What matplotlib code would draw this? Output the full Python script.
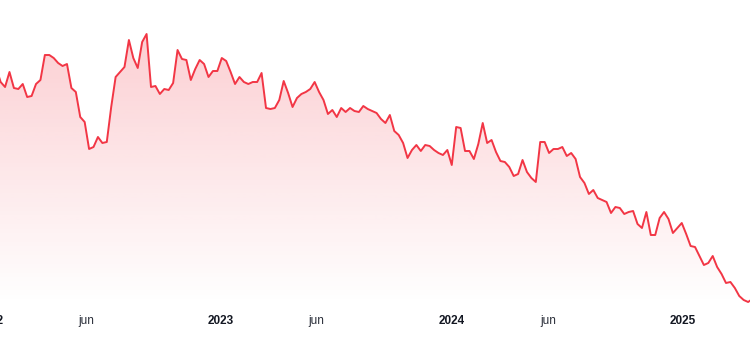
import numpy as np
import pandas as pd
import matplotlib
matplotlib.use("Agg")
import matplotlib.pyplot as plt
import matplotlib.dates as mdates
from matplotlib.colors import to_rgb

# 周线收盘价
start_date = "2022-01-10"
prices = [
    26.2, 24.8, 24.3, 25.8, 24.2, 24.1, 24.6, 23.3, 23.4, 24.6,
    25.0, 27.5, 27.5, 27.2, 26.7, 26.4, 26.6, 24.2, 23.8, 21.3,
    20.8, 18.1, 18.3, 19.3, 18.7, 18.8, 22.3, 25.3, 25.8, 26.3,
    29.0, 27.2, 26.2, 28.8, 29.6, 24.3, 24.4, 23.6, 24.1, 24.0,
    24.7, 28.0, 27.1, 27.0, 25.0, 26.1, 27.0, 26.6, 25.3, 25.9,
    25.9, 27.2, 26.9, 25.8, 24.6, 25.3, 24.8, 24.6, 24.8, 24.8,
    25.7, 22.2, 22.1, 22.2, 23.0, 24.9, 23.7, 22.3, 23.2, 23.6,
    23.8, 24.1, 24.8, 23.8, 23.0, 21.6, 22.0, 21.3, 22.2, 21.8,
    22.2, 21.9, 21.8, 22.4, 22.1, 21.9, 21.7, 21.1, 20.7, 21.5,
    19.9, 19.5, 18.7, 17.2, 18.0, 18.5, 17.9, 18.5, 18.4, 18.0,
    17.7, 17.5, 18.0, 16.5, 20.3, 20.2, 17.9, 17.9, 17.1, 18.6,
    20.7, 18.7, 19.0, 17.8, 16.9, 16.8, 16.3, 15.4, 15.6, 17.0,
    15.8, 15.2, 14.8, 18.8, 18.8, 17.7, 18.1, 18.1, 18.3, 17.4,
    17.7, 17.1, 15.3, 14.7, 13.6, 14.0, 13.2, 13.0, 12.8, 11.7,
    12.3, 12.2, 11.6, 11.8, 11.9, 10.6, 10.2, 11.8, 9.5, 9.5,
    11.2, 11.8, 11.1, 9.7, 10.2, 10.7, 9.6, 8.4, 8.3, 7.4,
    6.5, 6.7, 7.4, 6.3, 5.6, 4.7, 4.8, 4.2, 3.4, 3.0,
    2.8, 3.1,
]
tick_dates = ["2022-01-01", "2022-06-01", "2023-01-01", "2023-06-01",
              "2024-01-01", "2024-06-01", "2025-01-01"]
tick_labels = ["2022", "jun", "2023", "jun", "2024", "jun", "2025"]

dates = pd.date_range(start_date, periods=len(prices), freq="7D")
prices = np.array(prices)

line_color = "#f23645"

fig = plt.figure(figsize=(7.5, 3.38), dpi=100)
ax = fig.add_axes([0, 0.1006, 1, 0.8994])
ax.set_xlim(pd.Timestamp("2022-01-16"), pd.Timestamp("2025-04-17"))
ax.set_ylim(2.6, 33.0)

# 渐变填充
x_num = mdates.date2num(dates)
poly = ax.fill_between(dates, prices, 2.6, color="none", lw=0)
r, g, b = to_rgb(line_color)
grad = np.zeros((256, 1, 4))
grad[:, 0, 0] = r
grad[:, 0, 1] = g
grad[:, 0, 2] = b
grad[:, 0, 3] = np.linspace(0.27, 0.0, 256)
xl = ax.get_xlim()
img = ax.imshow(grad, aspect="auto", extent=[xl[0], xl[1], 2.6, 33.0],
                origin="upper", zorder=1)
img.set_clip_path(poly.get_paths()[0], transform=ax.transData)

ax.plot(dates, prices, color=line_color, lw=1.4, zorder=3,
        solid_joinstyle="round")

for spine in ax.spines.values():
    spine.set_visible(False)
ax.set_xticks([])
ax.set_yticks([])

trans = ax.get_xaxis_transform()
for d, lab in zip(tick_dates, tick_labels):
    bold = lab != "jun"
    ax.text(pd.Timestamp(d), -0.056, lab, transform=trans, ha="center",
            va="center", fontsize=8.5, family="Liberation Sans",
            fontweight="bold" if bold else "normal",
            color="#131722" if bold else "#2a2e39", clip_on=False)

fig.savefig("out.png", dpi=100)
